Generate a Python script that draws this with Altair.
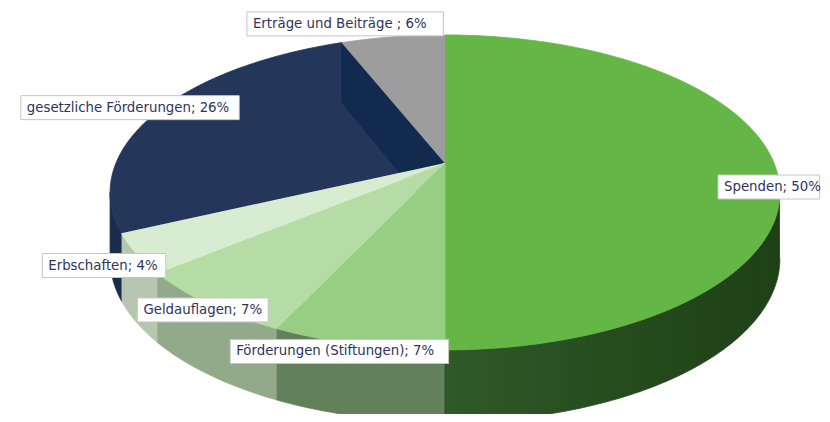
import altair as alt
import numpy as np
import pandas as pd

# ---- data ----
categories = ["Spenden", "Förderungen (Stiftungen)", "Geldauflagen", "Erbschaften",
              "gesetzliche Förderungen", "Erträge und Beiträge"]
shares = [50, 7, 7, 4, 26, 6]
label_texts = ["Spenden; 50%", "Förderungen (Stiftungen); 7%", "Geldauflagen; 7%",
               "Erbschaften; 4%", "gesetzliche Förderungen; 26%", "Erträge und Beiträge ; 6%"]

# ---- styles ----
top_colors = ["#64b646", "#98cd84", "#b6dca6", "#d7ecd0", "#243659", "#9d9d9d"]
side_colors = ["#2b5222", "#62805a", "#93aa8a", "#b7c6b0", "#1b2b4b", "#7a7a7a"]
wall_color = "#112a4e"
# label box offset (dx, dy) from the slice's mid-angle rim point
label_offsets = [(-56, 24), (-127, 7), (-71, 6), (-94, 12), (-138, -3), (-146, -13)]

# ---- pseudo-3D geometry (perspective-tilted disc) ----
CX, CY, A, B, K, D = 445.0, 163.0, 152.0, 329.0, 0.187, 65.0


def rim(theta_deg):
    t = np.radians(theta_deg)
    u, v = np.sin(t), np.cos(t)
    den = 1 + K * v
    return CX + B * u / den, CY - A * v / den, D / np.sqrt(den)


def arc(a, b):
    n = max(2, int(abs(b - a)) + 2)
    return np.linspace(a, b, n)


total = float(sum(shares))
bounds = np.concatenate([[0], np.cumsum(shares)]) / total * 360.0

tops, sides, walls = [], [], []
vis_lo = np.degrees(np.arccos(-K))
vis_hi = 360 - vis_lo
for k, cat in enumerate(categories):
    a, b = bounds[k], bounds[k + 1]
    pts = [(CX, CY)] + [rim(t)[:2] for t in arc(a, b)]
    for i, (x, y) in enumerate(pts):
        tops.append(dict(shape=cat, i=i, x=x, y=y, fill=top_colors[k]))
    lo, hi = max(a, vis_lo), min(b, vis_hi)
    if hi > lo:
        ts = arc(lo, hi)
        up = [rim(t) for t in ts]
        ring = [(x, y) for x, y, d in up] + [(x, y + d) for x, y, d in up[::-1]]
        for i, (x, y) in enumerate(ring):
            sides.append(dict(shape=cat, i=i, x=x, y=y, fill=side_colors[k]))

# radial wall of the navy slice at its boundary with the grey slice
px, py, pd_ = rim(bounds[5])
for i, (x, y) in enumerate([(CX, CY), (px, py), (px, py + pd_), (CX, CY + D)]):
    walls.append(dict(shape="wall", i=i, x=x, y=y, fill=wall_color))

tops = pd.DataFrame(tops)
sides = pd.DataFrame(sides)
walls = pd.DataFrame(walls)

labels = []
for k, cat in enumerate(categories):
    mid = (bounds[k] + bounds[k + 1]) / 2
    x, y, _ = rim(mid)
    dx, dy = label_offsets[k]
    x0 = x + dx
    w = len(label_texts[k]) * 7.3 + 14
    labels.append(dict(text=label_texts[k], x0=x0, x1=x0 + w, tx=x0 + 6,
                       yc=y + dy, y0=y + dy - 12, y1=y + dy + 12))
labels = pd.DataFrame(labels)

xs = alt.Scale(domain=[8, 822], nice=False, zero=False)
ys = alt.Scale(domain=[8, 414], nice=False, zero=False, reverse=True)


def poly(df, name):
    return alt.Chart(df, name=name).mark_line(strokeWidth=0.8, clip=True).encode(
        x=alt.X("x:Q", scale=xs, axis=None),
        y=alt.Y("y:Q", scale=ys, axis=None),
        detail="shape:N",
        order="i:Q",
        fill=alt.Fill("fill:N", scale=None),
        stroke=alt.Stroke("fill:N", scale=None),
    )


side_layer = poly(sides[sides["shape"] != categories[0]], "sides")
spenden_side = alt.Chart(sides[sides["shape"] == categories[0]]).mark_line(
    strokeWidth=0.8, clip=True, stroke="#264a1e",
    fill=alt.Gradient(gradient="linear", x1=0, x2=1, y1=0, y2=0,
                      stops=[alt.GradientStop(color="#30592a", offset=0),
                             alt.GradientStop(color="#244a1c", offset=0.6),
                             alt.GradientStop(color="#1e4017", offset=1)]),
).encode(
    x=alt.X("x:Q", scale=xs, axis=None),
    y=alt.Y("y:Q", scale=ys, axis=None),
    order="i:Q",
)
navy_top = poly(tops[tops["shape"] == categories[4]], "navytop")
wall_layer = poly(walls, "wall")
other_tops = poly(tops[tops["shape"] != categories[4]], "tops")

boxes = alt.Chart(labels).mark_rect(fill="white", stroke="#c9c4c4", strokeWidth=1, clip=True).encode(
    x=alt.X("x0:Q", scale=xs, axis=None), x2="x1:Q",
    y=alt.Y("y0:Q", scale=ys, axis=None), y2="y1:Q",
)
texts = alt.Chart(labels).mark_text(
    align="left", baseline="middle", font="DejaVu Sans Condensed, Liberation Sans Narrow, sans-serif",
    fontSize=14.8, color="#30345a", clip=True,
).encode(
    x=alt.X("tx:Q", scale=xs, axis=None),
    y=alt.Y("yc:Q", scale=ys, axis=None),
    text="text:N",
)

chart = alt.layer(side_layer, spenden_side, navy_top, wall_layer, other_tops, boxes, texts).properties(
    width=814, height=406, padding=0
).configure_view(stroke=None)

chart.save("out.html", embed_options={"renderer": "svg", "actions": False})
